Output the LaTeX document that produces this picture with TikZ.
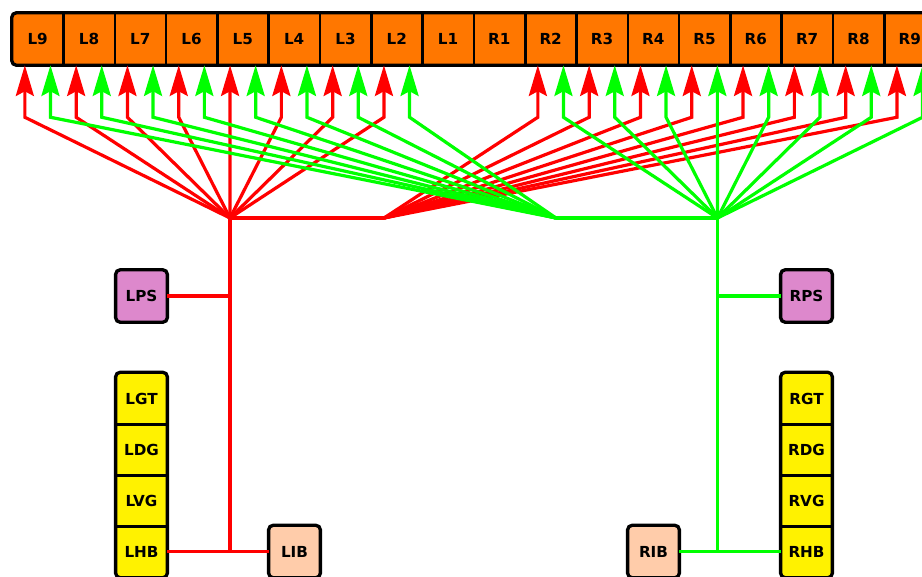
\documentclass[tikz,border=0pt]{standalone}
\usepackage{fontspec}
\setmainfont{DejaVu Sans}
\usetikzlibrary{arrows.meta,backgrounds}
\definecolor{barorange}{RGB}{255,119,0}
\definecolor{psviolet}{RGB}{221,136,204}
\definecolor{ibpeach}{RGB}{255,204,170}
\definecolor{linered}{RGB}{255,0,0}
\definecolor{linegreen}{RGB}{0,255,0}
\tikzset{
	cell/.style={minimum width=38.45pt, minimum height=39pt, inner sep=0pt, font=\fontsize{11.4}{13}\selectfont\bfseries},
	frame/.style={draw=black, line width=2.5pt, rounded corners=3.5pt},
	divider/.style={draw=black, line width=2pt},
	redline/.style={draw=linered, line width=2.4pt},
	greenline/.style={draw=linegreen, line width=2.4pt},
	tip/.style={-{Stealth[length=23pt, width=13.5pt, inset=3.5pt]}}
}
\begin{document}
\begin{tikzpicture}[x=0.75pt, y=-0.75pt]
	\useasboundingbox (0,0) rectangle (922,576);
	\clip (0,0) rectangle (922,576);
	% segment bar
	\foreach \i in {1,...,9} {
		\node[cell] (l\i) at ({12+51.3*(9.5-\i)},39) {L\i};
		\node[cell] (r\i) at ({12+51.3*(8.5+\i)},39) {R\i};
	}
	% side boxes
	\node[cell] (lps) at (141.5,296) {LPS};
	\node[cell] (lgt) at (141.5,398.5) {LGT};
	\node[cell] (ldg) at (141.5,449.5) {LDG};
	\node[cell] (lvg) at (141.5,500.5) {LVG};
	\node[cell] (lhb) at (141.5,551.5) {LHB};
	\node[cell] (lib) at (294.5,551.5) {LIB};
	\node[cell] (rps) at (806.5,296) {RPS};
	\node[cell] (rgt) at (806.5,398.5) {RGT};
	\node[cell] (rdg) at (806.5,449.5) {RDG};
	\node[cell] (rvg) at (806.5,500.5) {RVG};
	\node[cell] (rhb) at (806.5,551.5) {RHB};
	\node[cell] (rib) at (653.5,551.5) {RIB};
	\begin{scope}[on background layer]
		\draw[frame, fill=barorange] (l9.north west) rectangle (r9.south east);
		\draw[frame, fill=psviolet] (lps.north west) rectangle (lps.south east);
		\draw[frame, fill=psviolet] (rps.north west) rectangle (rps.south east);
		\draw[frame, fill=yellow] (lgt.north west) rectangle (lhb.south east);
		\draw[frame, fill=yellow] (rgt.north west) rectangle (rhb.south east);
		\draw[frame, fill=ibpeach] (lib.north west) rectangle (lib.south east);
		\draw[frame, fill=ibpeach] (rib.north west) rectangle (rib.south east);
	\end{scope}
	\foreach \i in {1,...,9} \draw[divider] (l\i.north east) -- (l\i.south east);
	\foreach \i in {1,...,8} \draw[divider] (r\i.north east) -- (r\i.south east);
	\foreach \b in {lgt,ldg,lvg,rgt,rdg,rvg} \draw[divider] (\b.south west) -- (\b.south east);
	% hubs
	\coordinate (redL) at (230,218);
	\coordinate (redR) at (384,218);
	\coordinate (greenL) at (556,218);
	\coordinate (greenR) at (717.5,218);
	% red side
	\foreach \i in {2,...,9} {
		\draw[redline, tip] (redL) -- ([xshift=-9.6pt, yshift=-39pt]l\i.south) -- ([xshift=-9.6pt]l\i.south);
		\draw[redline, tip] (redR) -- ([xshift=-9.6pt, yshift=-39pt]r\i.south) -- ([xshift=-9.6pt]r\i.south);
	}
	\draw[redline] (redL) -- (redR);
	\draw[redline] (lps) -- (lps -| redL);
	\draw[redline] (redL) -- (redL |- lhb);
	\draw[redline] (lhb) -- (lib);
	% green side
	\foreach \i in {2,...,9} {
		\draw[greenline, tip] (greenL) -- ([xshift=9.6pt, yshift=-39pt]l\i.south) -- ([xshift=9.6pt]l\i.south);
		\draw[greenline, tip] (greenR) -- ([xshift=9.6pt, yshift=-39pt]r\i.south) -- ([xshift=9.6pt]r\i.south);
	}
	\draw[greenline] (greenL) -- (greenR);
	\draw[greenline] (rps) -- (rps -| greenR);
	\draw[greenline] (greenR) -- (greenR |- rhb);
	\draw[greenline] (rib) -- (rhb);
\end{tikzpicture}
\end{document}
